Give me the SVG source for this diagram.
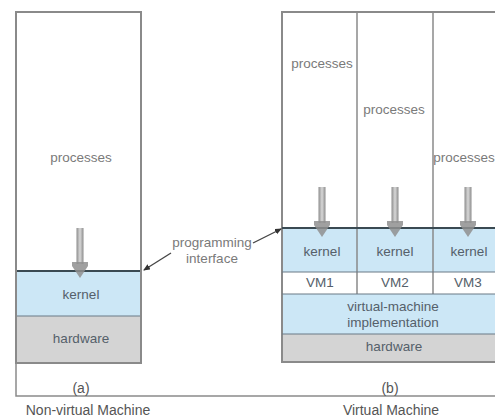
<svg xmlns="http://www.w3.org/2000/svg" width="495" height="418" viewBox="0 0 495 418">
  <style>
    text { font-family: "Liberation Sans", Arial, sans-serif; text-anchor: middle; }
    .proc { font-size: 13.5px; fill: #7a7a7a; }
    .lbl { font-size: 13.5px; fill: #55606a; }
    .cap { font-size: 14px; fill: #555; }
    .frame { fill: none; stroke: #8a8a8a; stroke-width: 2; }
    .div { stroke: #8a8a8a; stroke-width: 1.5; }
    .kern { fill: #cce7f6; }
    .hw { fill: #d4d4d4; }
    .vm { fill: #ffffff; }
    .edge { stroke: #6b7b86; stroke-width: 1.2; }
    .kedge { stroke: #3a4a52; stroke-width: 1.8; }
    .conn { stroke: #444; stroke-width: 1.3; fill: none; }
  </style>
  <defs>
    <linearGradient id="shaft" x1="0" y1="0" x2="1" y2="0">
      <stop offset="0" stop-color="#8c8c8c"/>
      <stop offset="0.5" stop-color="#d8d8d8"/>
      <stop offset="1" stop-color="#8c8c8c"/>
    </linearGradient>
    <marker id="tip" markerWidth="8" markerHeight="8" refX="6" refY="3" orient="auto" markerUnits="userSpaceOnUse">
      <path d="M0,0 L7,3 L0,6 Z" fill="#333"/>
    </marker>
    <!-- downward call arrow, drawn around (0,0) at the tip -->
    <g id="callArrow">
      <rect x="-3.5" y="-50" width="7" height="36" fill="url(#shaft)"/>
      <path d="M-8,-16 L8,-16 L8,-12 L0,0 L-8,-12 Z" fill="#8f8f8f" opacity="0.85"/>
    </g>
  </defs>

  <!-- outer frame: left edge and bottom rule -->
  <path d="M16,12 L16,396 L495,396" fill="none" stroke="#8a8a8a" stroke-width="1.5"/>

  <!-- (a) non-virtual machine -->
  <g id="nonvirtual">
    <rect x="16" y="12" width="125" height="351" fill="#fff" class="frame"/>
    <rect class="kern" x="17" y="271" width="123" height="45"/>
    <rect class="hw" x="17" y="316" width="123" height="46"/>
    <line class="kedge" x1="16" y1="271" x2="141" y2="271"/>
    <line class="edge" x1="16" y1="316" x2="141" y2="316"/>
    <rect x="16" y="12" width="125" height="351" class="frame"/>
    <text class="proc" x="81" y="162">processes</text>
    <text class="lbl" x="81" y="299">kernel</text>
    <text class="lbl" x="81" y="343">hardware</text>
    <use href="#callArrow" x="80" y="278"/>
  </g>

  <!-- (b) virtual machine -->
  <g id="virtual">
    <rect class="kern" x="282" y="228" width="213" height="44"/>
    <rect class="vm" x="282" y="272" width="213" height="22"/>
    <rect class="kern" x="282" y="294" width="213" height="40"/>
    <rect class="hw" x="282" y="334" width="213" height="28"/>
    <path d="M495,12 L282,12 L282,362 L495,362" class="frame"/>
    <line class="div" x1="357" y1="12" x2="357" y2="294"/>
    <line class="div" x1="433" y1="12" x2="433" y2="294"/>
    <line class="kedge" x1="282" y1="228" x2="495" y2="228"/>
    <line class="edge" x1="282" y1="272" x2="495" y2="272"/>
    <line class="edge" x1="282" y1="294" x2="495" y2="294"/>
    <line class="edge" x1="282" y1="334" x2="495" y2="334"/>
    <text class="proc" x="322" y="68">processes</text>
    <text class="proc" x="394" y="114">processes</text>
    <text class="proc" x="464" y="162" font-size="12.5px">processes</text>
    <text class="lbl" x="322" y="256">kernel</text>
    <text class="lbl" x="395" y="256">kernel</text>
    <text class="lbl" x="469" y="256">kernel</text>
    <text class="lbl" x="320" y="287">VM1</text>
    <text class="lbl" x="395" y="287">VM2</text>
    <text class="lbl" x="468" y="287">VM3</text>
    <text class="lbl" x="393" y="311">virtual-machine</text>
    <text class="lbl" x="393" y="327">implementation</text>
    <text class="lbl" x="394" y="351">hardware</text>
    <use href="#callArrow" x="322" y="237"/>
    <use href="#callArrow" x="395" y="237"/>
    <use href="#callArrow" x="468" y="237"/>
  </g>

  <!-- programming interface callout -->
  <g id="interface">
    <text class="proc" x="212" y="247">programming</text>
    <text class="proc" x="212" y="263">interface</text>
  </g>
  <g id="connectors">
    <line class="conn" x1="171" y1="253" x2="144" y2="270" marker-end="url(#tip)"/>
    <line class="conn" x1="253" y1="243" x2="281" y2="229" marker-end="url(#tip)"/>
  </g>

  <!-- captions -->
  <text class="cap" x="81" y="393" font-size="12">(a)</text>
  <text class="cap" x="390" y="393" font-size="12">(b)</text>
  <text class="cap" x="88" y="415">Non-virtual Machine</text>
  <text class="cap" x="391" y="415">Virtual Machine</text>
</svg>
